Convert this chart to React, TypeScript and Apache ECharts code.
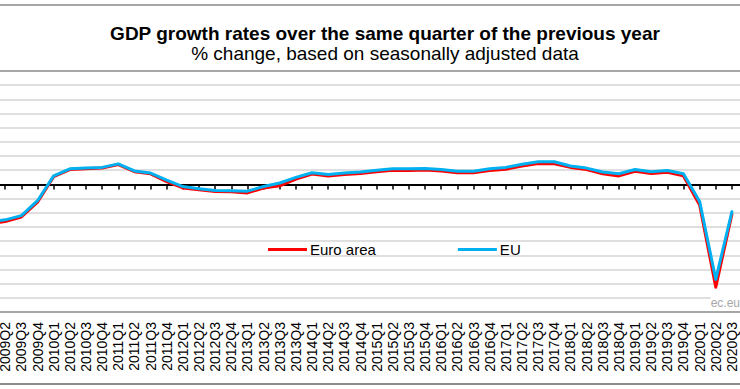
import React, { useEffect, useRef } from "react";
import * as echarts from "echarts";

const quarters: string[] = [
  "2009Q1", "2009Q2", "2009Q3", "2009Q4",
  "2010Q1", "2010Q2", "2010Q3", "2010Q4",
  "2011Q1", "2011Q2", "2011Q3", "2011Q4",
  "2012Q1", "2012Q2", "2012Q3", "2012Q4",
  "2013Q1", "2013Q2", "2013Q3", "2013Q4",
  "2014Q1", "2014Q2", "2014Q3", "2014Q4",
  "2015Q1", "2015Q2", "2015Q3", "2015Q4",
  "2016Q1", "2016Q2", "2016Q3", "2016Q4",
  "2017Q1", "2017Q2", "2017Q3", "2017Q4",
  "2018Q1", "2018Q2", "2018Q3", "2018Q4",
  "2019Q1", "2019Q2", "2019Q3", "2019Q4",
  "2020Q1", "2020Q2", "2020Q3",
];

const euroArea: number[] = [
  -5.5, -5.25, -4.6, -2.5,
  1.1, 2.1, 2.2, 2.3,
  2.8, 1.8, 1.5, 0.4,
  -0.5, -0.75, -1.0, -1.05,
  -1.2, -0.5, -0.2, 0.75,
  1.45, 1.2, 1.4, 1.55,
  1.8, 2.0, 1.95, 2.05,
  1.9, 1.65, 1.65, 1.95,
  2.15, 2.6, 2.95, 2.9,
  2.4, 2.1, 1.5, 1.2,
  1.85, 1.55, 1.7, 1.2,
  -2.9, -14.5, -4.2,
];

const eu: number[] = [
  -5.3, -5.0, -4.4, -2.3,
  1.2, 2.2, 2.3, 2.4,
  2.9, 1.9, 1.6, 0.6,
  -0.3, -0.6, -0.85, -0.9,
  -0.95, -0.3, 0.2, 1.0,
  1.65, 1.4, 1.6, 1.75,
  2.0, 2.2, 2.2, 2.25,
  2.1, 1.85, 1.85, 2.2,
  2.4, 2.85, 3.2, 3.2,
  2.6, 2.3, 1.75, 1.5,
  2.1, 1.8, 1.95, 1.5,
  -2.4, -13.4, -3.85,
];

const yMin = -18;
const yMax = 16;
const yStep = 2;

const titleText = "GDP growth rates over the same quarter of the previous year";
const subtitleText = "% change, based on seasonally adjusted data";
const sourceText = "ec.eu";

const FONT = "'Liberation Sans', Arial, sans-serif";

// The chart canvas is wider than the visible window and shifted left,
// so that the first quarter (2009Q1) lies just outside the picture.
const SHIFT = 19;
const CHART_W = 740 + SHIFT;
const CHART_H = 389;

export default function App() {
  const ref = useRef<HTMLDivElement>(null);

  useEffect(() => {
    document.body.style.margin = "0";
    if (!ref.current) return;
    const chart = echarts.init(ref.current, undefined, { renderer: "svg" });
    chart.setOption({
      animation: false,
      backgroundColor: "#ffffff",
      textStyle: { fontFamily: FONT },
      title: {
        text: titleText,
        subtext: subtitleText,
        left: 385 + SHIFT,
        top: 24,
        textAlign: "center",
        itemGap: 1,
        padding: 0,
        textStyle: { fontSize: 19, fontWeight: "bold", color: "#000", fontFamily: FONT },
        subtextStyle: { fontSize: 19, color: "#000", fontFamily: FONT },
      },
      legend: {
        data: ["Euro area", "EU"],
        left: 268 + SHIFT,
        top: 242,
        padding: 0,
        icon: "rect",
        itemWidth: 39,
        itemHeight: 3,
        itemGap: 82,
        textStyle: { fontSize: 15, color: "#000", fontFamily: FONT, padding: [0, 0, 0, -2] },
      },
      grid: { left: 0, right: 0, top: 71, bottom: 77, containLabel: false },
      xAxis: [
        {
          type: "category",
          data: quarters,
          boundaryGap: true,
          position: "bottom",
          axisLine: { onZero: false, lineStyle: { color: "#a6a6a6", width: 2 } },
          axisTick: { show: false },
          axisLabel: {
            rotate: 90,
            interval: (index: number) => index > 0,
            fontSize: 14,
            lineHeight: 11,
            color: "#000",
            margin: 10,
            fontFamily: FONT,
          },
          splitLine: { show: false },
        },
        {
          type: "category",
          data: quarters,
          boundaryGap: true,
          position: "bottom",
          axisLine: { onZero: true, lineStyle: { color: "#000", width: 2 } },
          axisTick: {
            show: true,
            alignWithLabel: true,
            interval: 0,
            length: 5,
            lineStyle: { color: "#000", width: 1.5 },
          },
          axisLabel: { show: false },
          splitLine: { show: false },
        },
      ],
      yAxis: {
        type: "value",
        min: yMin,
        max: yMax,
        interval: yStep,
        axisLine: { show: false },
        axisTick: { show: false },
        axisLabel: { show: false },
        splitLine: { show: true, lineStyle: { color: "#d4d4d4", width: 1.5 } },
      },
      series: [
        {
          name: "Euro area",
          type: "line",
          xAxisIndex: 0,
          data: euroArea,
          symbol: "none",
          color: "#ff0000",
          lineStyle: { color: "#ff0000", width: 3, join: "round", cap: "round" },
          z: 3,
        },
        {
          name: "EU",
          type: "line",
          xAxisIndex: 0,
          data: eu,
          symbol: "none",
          color: "#00b0f0",
          lineStyle: { color: "#00b0f0", width: 3, join: "round", cap: "round" },
          z: 4,
        },
      ],
      graphic: [
        {
          type: "line",
          shape: { x1: 0, y1: 5, x2: CHART_W, y2: 5 },
          style: { stroke: "#a6a6a6", lineWidth: 2 },
          silent: true,
        },
        {
          type: "line",
          shape: { x1: 0, y1: 71, x2: CHART_W, y2: 71 },
          style: { stroke: "#a6a6a6", lineWidth: 2 },
          z: 10,
          silent: true,
        },
        {
          type: "line",
          shape: { x1: 0, y1: 384, x2: CHART_W, y2: 384 },
          style: { stroke: "#8c8c8c", lineWidth: 2 },
          silent: true,
        },
        {
          type: "text",
          x: CHART_W,
          y: 303,
          style: {
            text: sourceText,
            fill: "#a6a6a6",
            font: "12px " + FONT,
            textAlign: "right",
            textVerticalAlign: "middle",
            backgroundColor: "#ffffff",
          },
          z: 5,
          silent: true,
        },
      ],
    });
    return () => chart.dispose();
  }, []);

  return (
    <div style={{ width: 740, height: CHART_H, overflow: "hidden", position: "relative" }}>
      <div
        ref={ref}
        style={{ width: CHART_W, height: CHART_H, position: "absolute", left: -SHIFT, top: 0 }}
      />
    </div>
  );
}
